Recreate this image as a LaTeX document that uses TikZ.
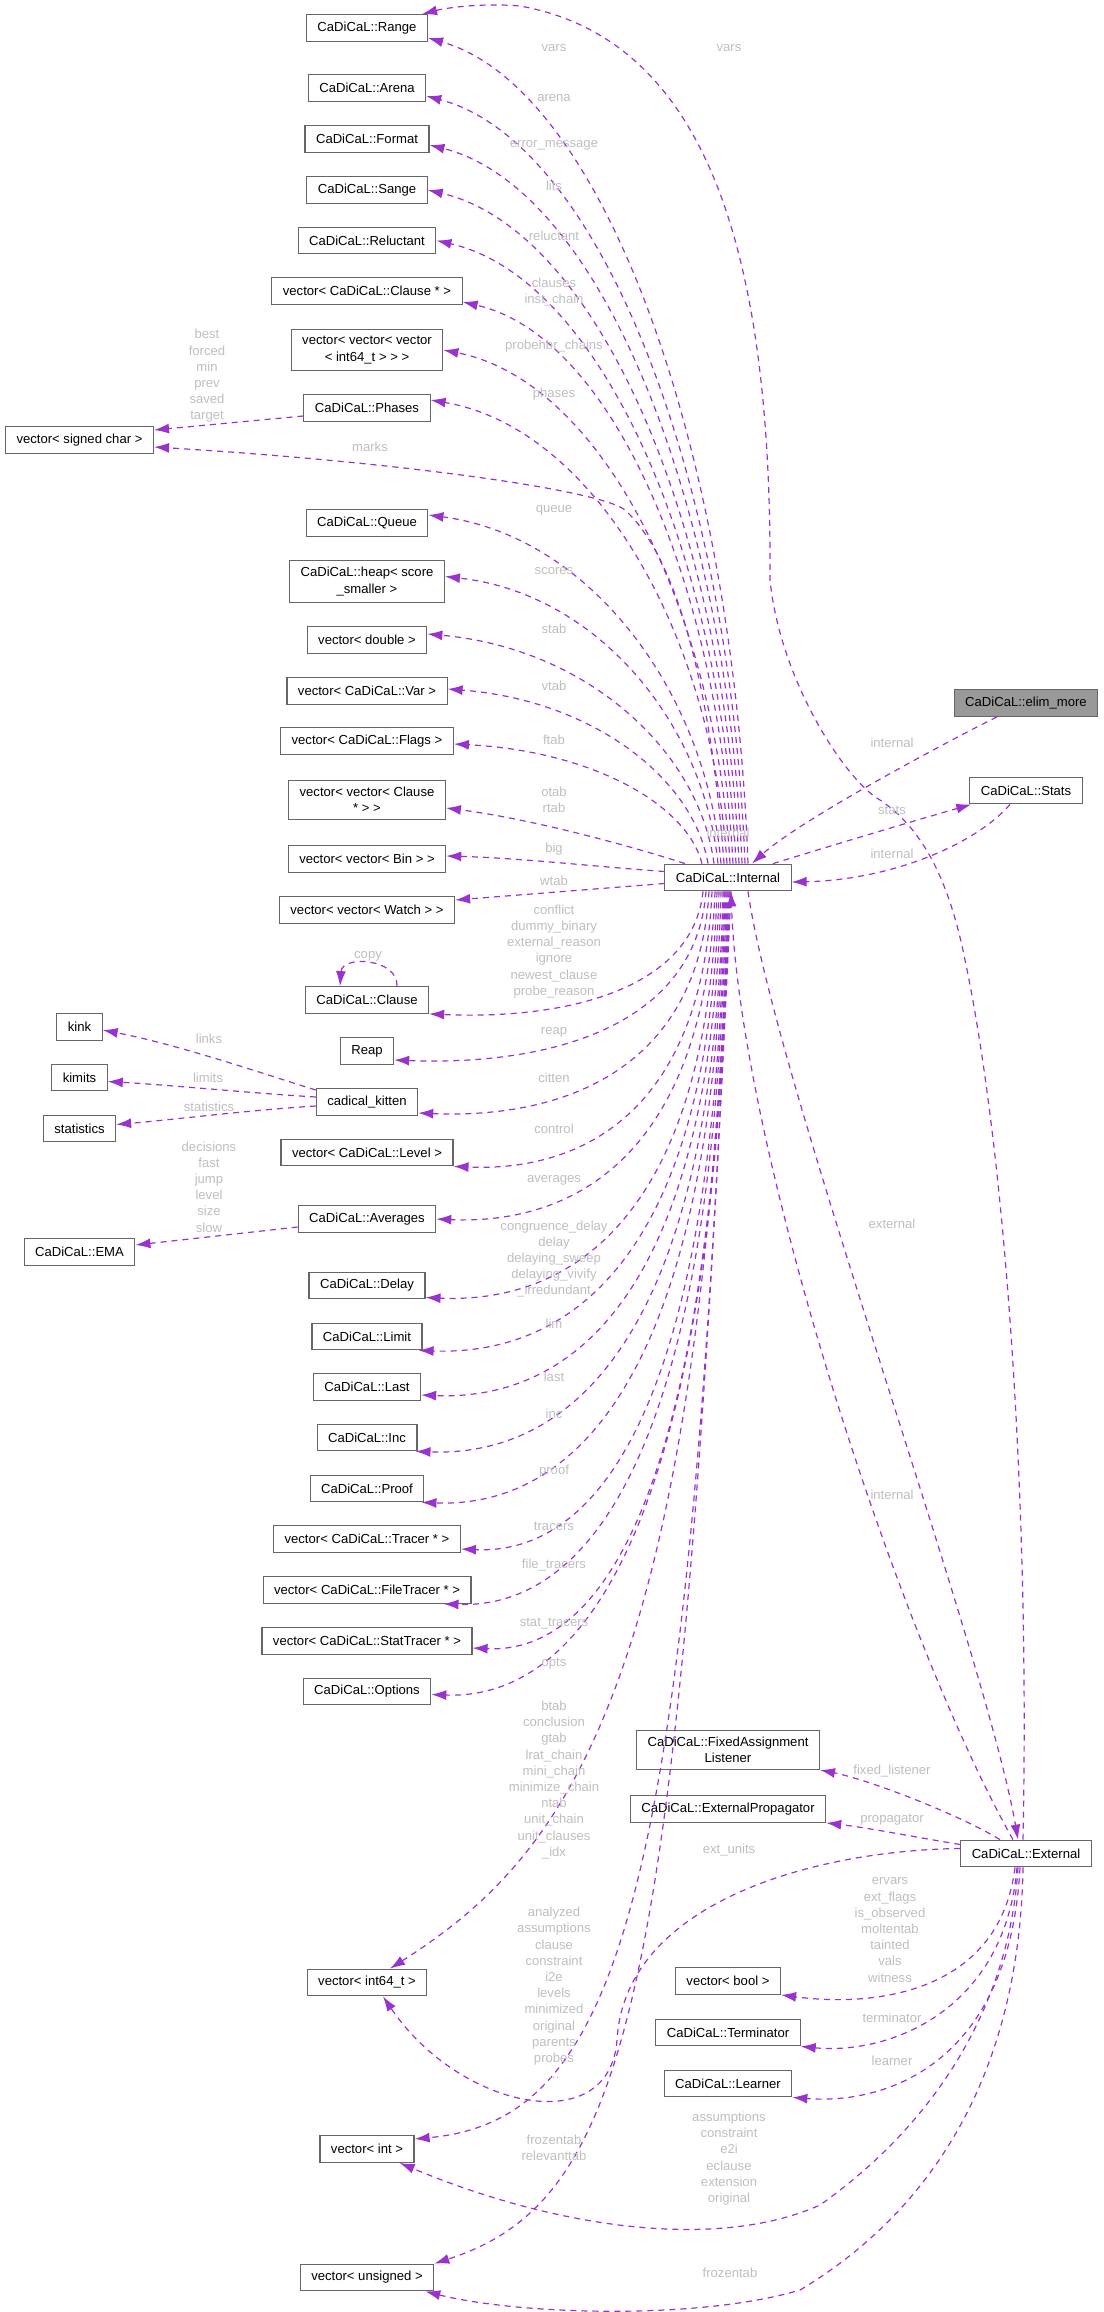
\documentclass[tikz,border=0pt]{standalone}
\usepackage{fontspec}
\setmainfont{Liberation Sans}
\usetikzlibrary{arrows.meta}
\definecolor{edgeviolet}{HTML}{9A32CD}
\definecolor{boxgray}{HTML}{666666}
\definecolor{labelgray}{HTML}{BEBEBE}
\definecolor{rootgray}{HTML}{999999}
\newcommand{\dxfont}{\fontsize{13.1}{16.2}\selectfont}

\tikzset{
  cls/.style={draw=boxgray, fill=white, line width=1.1pt, font=\dxfont, align=center, inner xsep=11pt, inner ysep=6.5pt, minimum height=26.7pt},
  root/.style={cls, fill=rootgray},
  lbl/.style={text=labelgray, font=\dxfont, align=center, inner sep=0pt},
  member/.style={->, draw=edgeviolet, line width=1.2pt, dash pattern=on 6pt off 5pt}
}

\begin{document}
\begin{tikzpicture}[x=1pt, y=-1pt, >={Latex[length=15pt,width=10pt]}]
\def\farcol{79.5}
\def\typecol{367}
\def\midcol{728}
\def\rootcol{1026}
\useasboundingbox (0,0) rectangle (1103,2312);

%Root column
\node (elim) at (\rootcol,703) [root] {CaDiCaL::elim\_more};
\node (stats) at (\rootcol,790.5) [cls] {CaDiCaL::Stats};
\node (ext) at (\rootcol,1853.5) [cls] {CaDiCaL::External};

%Middle column
\node (intl) at (\midcol,877.5) [cls] {CaDiCaL::Internal};
\node (fal) at (\midcol,1750) [cls] {CaDiCaL::FixedAssignment\\Listener};
\node (eprop) at (\midcol,1809) [cls] {CaDiCaL::ExternalPropagator};
\node (vbool) at (\midcol,1981) [cls] {vector< bool >};
\node (term) at (\midcol,2032.5) [cls] {CaDiCaL::Terminator};
\node (lrn) at (\midcol,2083.5) [cls] {CaDiCaL::Learner};

%Member types
\node (rng) at (\typecol,28) [cls] {CaDiCaL::Range};
\node (arena) at (\typecol,88) [cls] {CaDiCaL::Arena};
\node (fmt) at (\typecol,139) [cls] {CaDiCaL::Format};
\node (sange) at (\typecol,190) [cls] {CaDiCaL::Sange};
\node (reluct) at (\typecol,240.5) [cls] {CaDiCaL::Reluctant};
\node (vcls) at (\typecol,291) [cls] {vector< CaDiCaL::Clause * >};
\node (vvv) at (\typecol,350) [cls] {vector< vector< vector\\< int64\_t > > >};
\node (phases) at (\typecol,408) [cls] {CaDiCaL::Phases};
\node (queue) at (\typecol,523) [cls] {CaDiCaL::Queue};
\node (heap) at (\typecol,581.5) [cls] {CaDiCaL::heap< score\\\_smaller >};
\node (vdbl) at (\typecol,640) [cls] {vector< double >};
\node (vvar) at (\typecol,691) [cls] {vector< CaDiCaL::Var >};
\node (vflg) at (\typecol,741) [cls] {vector< CaDiCaL::Flags >};
\node (vvcls) at (\typecol,800) [cls] {vector< vector< Clause\\* > >};
\node (vvbin) at (\typecol,859) [cls] {vector< vector< Bin > >};
\node (vvwch) at (\typecol,910) [cls] {vector< vector< Watch > >};
\node (cls) at (\typecol,1000) [cls] {CaDiCaL::Clause};
\node (reap) at (\typecol,1051) [cls] {Reap};
\node (kitten) at (\typecol,1102) [cls] {cadical\_kitten};
\node (vlvl) at (\typecol,1152.5) [cls] {vector< CaDiCaL::Level >};
\node (avg) at (\typecol,1219) [cls] {CaDiCaL::Averages};
\node (delay) at (\typecol,1285.5) [cls] {CaDiCaL::Delay};
\node (limit) at (\typecol,1336.5) [cls] {CaDiCaL::Limit};
\node (last) at (\typecol,1387) [cls] {CaDiCaL::Last};
\node (inc) at (\typecol,1437.5) [cls] {CaDiCaL::Inc};
\node (proof) at (\typecol,1488.5) [cls] {CaDiCaL::Proof};
\node (vtrc) at (\typecol,1539) [cls] {vector< CaDiCaL::Tracer * >};
\node (vftrc) at (\typecol,1590) [cls] {vector< CaDiCaL::FileTracer * >};
\node (vstrc) at (\typecol,1641) [cls] {vector< CaDiCaL::StatTracer * >};
\node (opts) at (\typecol,1691.5) [cls] {CaDiCaL::Options};
\node (vi64) at (\typecol,1982.5) [cls] {vector< int64\_t >};
\node (vint) at (\typecol,2149) [cls] {vector< int >};
\node (vuns) at (\typecol,2277.5) [cls] {vector< unsigned >};

%Far left
\node (vsc) at (\farcol,440) [cls] {vector< signed char >};
\node (kink) at (\farcol,1027) [cls] {kink};
\node (kimits) at (\farcol,1077.5) [cls] {kimits};
\node (kstat) at (\farcol,1128.5) [cls] {statistics};
\node (ema) at (\farcol,1252) [cls] {CaDiCaL::EMA};

%Internal to the types above it
\draw[member] ([xshift=20pt]intl.north) .. controls (733,451) and (604,88) .. ([yshift=-10pt]rng.east);
\draw[member] ([xshift=17pt]intl.north) .. controls (730,480) and (601,142) .. ([yshift=-8pt]arena.east);
\draw[member] ([xshift=14pt]intl.north) .. controls (727,505) and (601,188) .. ([yshift=-6pt]fmt.east);
\draw[member] ([xshift=11pt]intl.north) .. controls (724,527) and (599,230) .. (sange.east);
\draw[member] ([xshift=8pt]intl.north) .. controls (721,552) and (601,278) .. (reluct.east);
\draw[member] ([xshift=5pt]intl.north) .. controls (718,583) and (612,336) .. ([yshift=-11pt]vcls.east);
\draw[member] ([xshift=2pt]intl.north) .. controls (715,607) and (601,381) .. (vvv.east);
\draw[member] ([xshift=-1pt]intl.north) .. controls (712,632) and (594,428) .. ([yshift=8pt]phases.east);
\draw[member] ([xshift=-4pt]intl.north) .. controls (712,700) and (680,560) .. (625,510) .. controls (600,490) and (400,462) .. ([yshift=-7pt]vsc.east);
\draw[member] ([xshift=-7pt]intl.north) .. controls (706,690) and (589,536) .. ([yshift=8pt]queue.east);
\draw[member] ([xshift=-10pt]intl.north) .. controls (703,720) and (595,593) .. ([yshift=5pt]heap.east);
\draw[member] ([xshift=-14pt]intl.north) .. controls (699,749) and (585,648) .. ([yshift=6pt]vdbl.east);
\draw[member] ([xshift=-20pt]intl.north) .. controls (693,777) and (591,700) .. ([yshift=2pt]vvar.east);
\draw[member] ([xshift=-26pt]intl.north) .. controls (687,804) and (591,751) .. ([yshift=-3pt]vflg.east);
\draw[member] ([xshift=-43pt]intl.north) .. controls (650,852) and (540,820) .. ([yshift=-8pt]vvcls.east);
\draw[member] ([yshift=6pt]intl.west) .. controls (600,867) and (520,858) .. ([yshift=3pt]vvbin.east);
\draw[member] ([yshift=-6pt]intl.west) -- ([yshift=10pt]vvwch.east);

%Internal to the types below it
\draw[member] ([xshift=-25pt]intl.south) .. controls (693,989) and (566,1020) .. (cls.south east);
\draw[member] ([xshift=-22pt]intl.south) .. controls (696,1026) and (550,1066) .. ([yshift=-9pt]reap.east);
\draw[member] ([xshift=-19pt]intl.south) .. controls (699,1069) and (564,1119) .. ([yshift=-11pt]kitten.east);
\draw[member] ([xshift=-16pt]intl.south) .. controls (702,1111) and (583,1172) .. (vlvl.south east);
\draw[member] ([xshift=-13pt]intl.south) .. controls (705,1153) and (576,1225) .. (avg.east);
\draw[member] ([xshift=-11pt]intl.south) .. controls (707,1216) and (572,1304) .. ([yshift=-12pt]delay.east);
\draw[member] ([xshift=-9pt]intl.south) .. controls (709,1258) and (569,1356) .. ([xshift=-4pt]limit.south east);
\draw[member] ([xshift=-7pt]intl.south) .. controls (711,1294) and (572,1401) .. ([yshift=-8pt]last.east);
\draw[member] ([xshift=-5pt]intl.south) .. controls (713,1339) and (570,1457) .. ([xshift=-2pt]inc.south east);
\draw[member] ([xshift=-4pt]intl.south) .. controls (714,1380) and (573,1508) .. ([xshift=-3pt]proof.south east);
\draw[member] ([xshift=-3pt]intl.south) .. controls (715,1417) and (594,1555) .. ([yshift=-10pt]vtrc.east);
\draw[member] ([xshift=-2pt]intl.south) .. controls (716,1461) and (585,1609) .. ([xshift=-28pt]vftrc.south east);
\draw[member] ([xshift=-1pt]intl.south) .. controls (717,1497) and (601,1654) .. ([yshift=-7pt]vstrc.east);
\draw[member] (intl.south) .. controls (718,1534) and (580,1700) .. ([yshift=-3pt]opts.east);
\draw[member] ([xshift=1pt]intl.south) .. controls (700,1700) and (560,1860) .. ([xshift=23pt]vi64.north);
\draw[member] ([xshift=2pt]intl.south) .. controls (690,1900) and (620,2120) .. ([yshift=10pt]vint.east);
\draw[member] ([xshift=3pt]intl.south) .. controls (680,2000) and (630,2200) .. (vuns.north east);

%Internal, Stats, External and the root
\draw[member] ([xshift=20pt]intl.south) .. controls (775,1080) and (985,1650) .. ([xshift=-8pt]ext.north);
\draw[member] ([xshift=-13pt]ext.north) .. controls (900,1640) and (740,1150) .. ([xshift=3pt]intl.south);
\draw[member] ([xshift=45pt]intl.north) .. controls (830,846) and (910,822) .. ([xshift=2pt]stats.south west);
\draw[member] ([xshift=-16pt]stats.south) .. controls (975,845) and (890,880) .. ([yshift=-4.5pt]intl.east);
\draw[member] ([xshift=-29pt]elim.south) .. controls (950,740) and (800,820) .. ([xshift=24pt]intl.north);

%External to its members
\draw[member] ([xshift=-3pt]ext.north) .. controls (1030,1500) and (1005,1150) .. (965,960) .. controls (950,885) and (925,830) .. (880,800) .. controls (845,780) and (780,680) .. (770,580) .. controls (772,260) and (710,40) .. (520,6) .. controls (485,3) and (450,7) .. ([xshift=-6pt]rng.north east);
\draw[member] ([yshift=5pt]ext.west) .. controls (820,1850) and (625,1900) .. (617,2040) .. controls (610,2140) and (460,2110) .. ([xshift=16pt]vi64.south);
\draw[member] ([xshift=-26pt]ext.north) .. controls (960,1815) and (870,1780) .. (fal.south east);
\draw[member] ([yshift=9pt]ext.west) .. controls (920,1838) and (870,1828) .. (eprop.south east);
\draw[member] ([xshift=-11pt]ext.south) .. controls (1000,1990) and (880,2008) .. (vbool.south east);
\draw[member] ([xshift=-9pt]ext.south) .. controls (1005,2010) and (890,2055) .. (term.south east);
\draw[member] ([xshift=-6pt]ext.south) .. controls (1010,2060) and (890,2105) .. (lrn.south east);
\draw[member] ([xshift=-8pt]ext.south) .. controls (1010,2000) and (940,2120) .. (820,2205) .. controls (720,2250) and (560,2230) .. ([xshift=-15pt]vint.south east);
\draw[member] ([xshift=-3pt]ext.south) .. controls (1020,2050) and (950,2200) .. (800,2290) .. controls (700,2320) and (520,2315) .. ([xshift=-9pt]vuns.south east);

%Far left members
\draw[member] ([yshift=-8pt]phases.west) -- ([yshift=10pt]vsc.east);
\draw[member] ([yshift=12pt]kitten.west) .. controls (270,1076) and (180,1045) .. ([yshift=-3pt]kink.east);
\draw[member] ([yshift=5pt]kitten.west) .. controls (250,1093) and (170,1085) .. ([yshift=-4pt]kimits.east);
\draw[member] ([yshift=-4pt]kitten.west) .. controls (250,1110) and (170,1120) .. ([yshift=4pt]kstat.east);
\draw[member] ([yshift=-8pt]avg.west) -- ([yshift=7pt]ema.east);
\draw[member] ([xshift=30pt]cls.north) .. controls (398,958) and (342,955) .. ([xshift=-27pt]cls.north);

%Labels of Internal
\node (lvars) at (554,48) [lbl] {vars};
\node (larena) at (554,98) [lbl] {arena};
\node (lerr) at (554,145.5) [lbl] {error\_message};
\node (llits) at (554,186) [lbl] {lits};
\node (lrel) at (554,236) [lbl] {reluctant};
\node (lclauses) at (554,292) [lbl] {clauses\\inst\_chain};
\node (lprobe) at (554,346) [lbl] {probehbr\_chains};
\node (lphases) at (554,394) [lbl] {phases};
\node (lmarks) at (370,447) [lbl] {marks};
\node (lqueue) at (554,510) [lbl] {queue};
\node (lscores) at (554,571) [lbl] {scores};
\node (lstab) at (554,629) [lbl] {stab};
\node (lvtab) at (554,685.5) [lbl] {vtab};
\node (lftab) at (554,740) [lbl] {ftab};
\node (lotab) at (554,800) [lbl] {otab\\rtab};
\node (lbig) at (554,849) [lbl] {big};
\node (lwtab) at (554,881) [lbl] {wtab};
\node (lconf) at (554,951.5) [lbl] {conflict\\dummy\_binary\\external\_reason\\ignore\\newest\_clause\\probe\_reason};
\node (lreap) at (554,1032) [lbl] {reap};
\node (lcitten) at (554,1078) [lbl] {citten};
\node (lcontrol) at (554,1129) [lbl] {control};
\node (lavg) at (554,1180) [lbl] {averages};
\node (ldelay) at (554,1259) [lbl] {congruence\_delay\\delay\\delaying\_sweep\\delaying\_vivify\\\_irredundant};
\node (llim) at (554,1324) [lbl] {lim};
\node (llast) at (554,1376.7) [lbl] {last};
\node (linc) at (554,1413.7) [lbl] {inc};
\node (lproof) at (554,1471.5) [lbl] {proof};
\node (ltrc) at (554,1526) [lbl] {tracers};
\node (lftrc) at (554,1565) [lbl] {file\_tracers};
\node (lstrc) at (554,1623.7) [lbl] {stat\_tracers};
\node (lopts) at (554,1663.7) [lbl] {opts};
\node (lbtab) at (554,1780) [lbl] {btab\\conclusion\\gtab\\lrat\_chain\\mini\_chain\\minimize\_chain\\ntab\\unit\_chain\\unit\_clauses\\\_idx};
\node (lanal) at (554,1993) [lbl] {analyzed\\assumptions\\clause\\constraint\\i2e\\levels\\minimized\\original\\parents\\probes\\...};
\node (lfroz) at (554,2148) [lbl] {frozentab\\relevanttab};

%Labels on the left
\node (lbest) at (207,376) [lbl] {best\\forced\\min\\prev\\saved\\target};
\node (llinks) at (209,1039) [lbl] {links};
\node (llimits) at (208,1078) [lbl] {limits};
\node (lstatistics) at (209,1107) [lbl] {statistics};
\node (ldecisions) at (209,1187) [lbl] {decisions\\fast\\jump\\level\\size\\slow};
\node (lcopy) at (368,956) [lbl] {copy};

%Labels on the right
\node (lelim) at (892,743) [lbl] {internal};
\node (lstats) at (892,810) [lbl] {stats};
\node (lstatsint) at (892,854) [lbl] {internal};
\node (lexternal) at (892,1224) [lbl] {external};
\node (lextint) at (892,1495) [lbl] {internal};
\node (lfixed) at (892,1771.5) [lbl] {fixed\_listener};
\node (lprop) at (892,1819.6) [lbl] {propagator};
\node (lervars) at (890,1930) [lbl] {ervars\\ext\_flags\\is\_observed\\moltentab\\tainted\\vals\\witness};
\node (lterm) at (892,2018) [lbl] {terminator};
\node (llearner) at (892,2061) [lbl] {learner};

%Labels of External in the middle
\node (lextvars) at (729,48) [lbl] {vars};
\node (ltopint) at (728,833) [lbl] {internal};
\node (lextunits) at (729,1850) [lbl] {ext\_units};
\node (lassume) at (729,2158.5) [lbl] {assumptions\\constraint\\e2i\\eclause\\extension\\original};
\node (lextfroz) at (730,2273) [lbl] {frozentab};

\end{tikzpicture}
\end{document}
